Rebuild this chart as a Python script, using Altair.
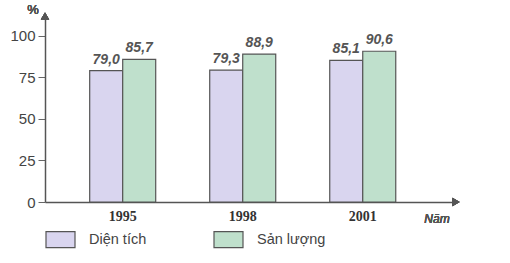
import altair as alt
import pandas as pd

years = ["1995", "1998", "2001"]
series = ["Diện tích", "Sản lượng"]
dien_tich = [79.0, 79.3, 85.1]
san_luong = [85.7, 88.9, 90.6]
y_ticks = [0, 25, 50, 75, 100]

rows = []
for i, yr in enumerate(years):
    for s, vals in zip(series, [dien_tich, san_luong]):
        v = vals[i]
        rows.append({"year": yr, "series": s, "value": v,
                     "label": f"{v:.1f}".replace(".", ",")})
df = pd.DataFrame(rows)

x_enc = alt.X("year:N", sort=years,
              scale=alt.Scale(paddingInner=0.45, paddingOuter=0.433, align=0.43),
              axis=alt.Axis(title=None, labelAngle=0, ticks=False,
                            labelFont="Liberation Serif", labelFontWeight="bold",
                            labelFontSize=14, labelColor="#333", labelPadding=7,
                            domainColor="#555", domainWidth=1.5))
y_enc = alt.Y("value:Q", scale=alt.Scale(domain=[0, 110], nice=False),
              axis=alt.Axis(title=None, values=y_ticks, grid=False,
                            tickSize=7, tickColor="#666", labelPadding=3,
                            labelFont="Liberation Sans", labelFontSize=15,
                            labelColor="#444", domainColor="#555", domainWidth=1.5))
off = alt.XOffset("series:N", sort=series, scale=alt.Scale(paddingInner=0))

base = alt.Chart(df)

bars = base.mark_bar(stroke="#555", strokeWidth=1.2).encode(
    x=x_enc, y=y_enc, xOffset=off,
    color=alt.Color("series:N", sort=series,
                    scale=alt.Scale(domain=series, range=["#d9d5ef", "#bfe0cc"]),
                    legend=alt.Legend(title=None, orient="none", legendX=0, legendY=205,
                                      direction="horizontal",
                                      symbolType="M-1,-0.55H1V0.55H-1Z", symbolSize=841,
                                      symbolStrokeColor="#555", symbolStrokeWidth=1.2,
                                      labelFont="Liberation Sans", labelFontSize=14.5,
                                      labelColor="#444", labelOffset=13,
                                      columnPadding=64))
)

labels = base.mark_text(dy=-4, baseline="bottom", fontStyle="italic", fontWeight="bold",
                        font="Liberation Sans", fontSize=14, color="#555").encode(
    x=alt.X("year:N", sort=years), y="value:Q", xOffset=off, text="label:N")

arrow_y = base.mark_point(shape="triangle-up", filled=True, color="#555", size=70, opacity=1).encode(
    x=alt.value(0), y=alt.value(-3))
arrow_x = base.mark_point(shape="triangle-right", filled=True, color="#555", size=70, opacity=1).encode(
    x=alt.value(411), y=alt.value(183))
pct = base.mark_text(font="Liberation Sans", fontSize=13, color="#555").encode(
    x=alt.value(-12), y=alt.value(-9), text=alt.value("%"))
nam = base.mark_text(font="Liberation Sans", fontSize=12, fontStyle="italic", color="#555").encode(
    x=alt.value(392), y=alt.value(200), text=alt.value("Năm"))

chart = alt.layer(bars, labels, arrow_y, arrow_x, pct, nam).properties(
    width=410, height=183,
    autosize=alt.AutoSizeParams(type="none"),
    padding={"left": 45, "top": 19, "right": 55, "bottom": 61},
    background="white",
).configure_view(stroke=None)

chart.save("out.html", embed_options={"renderer": "svg", "actions": False})
